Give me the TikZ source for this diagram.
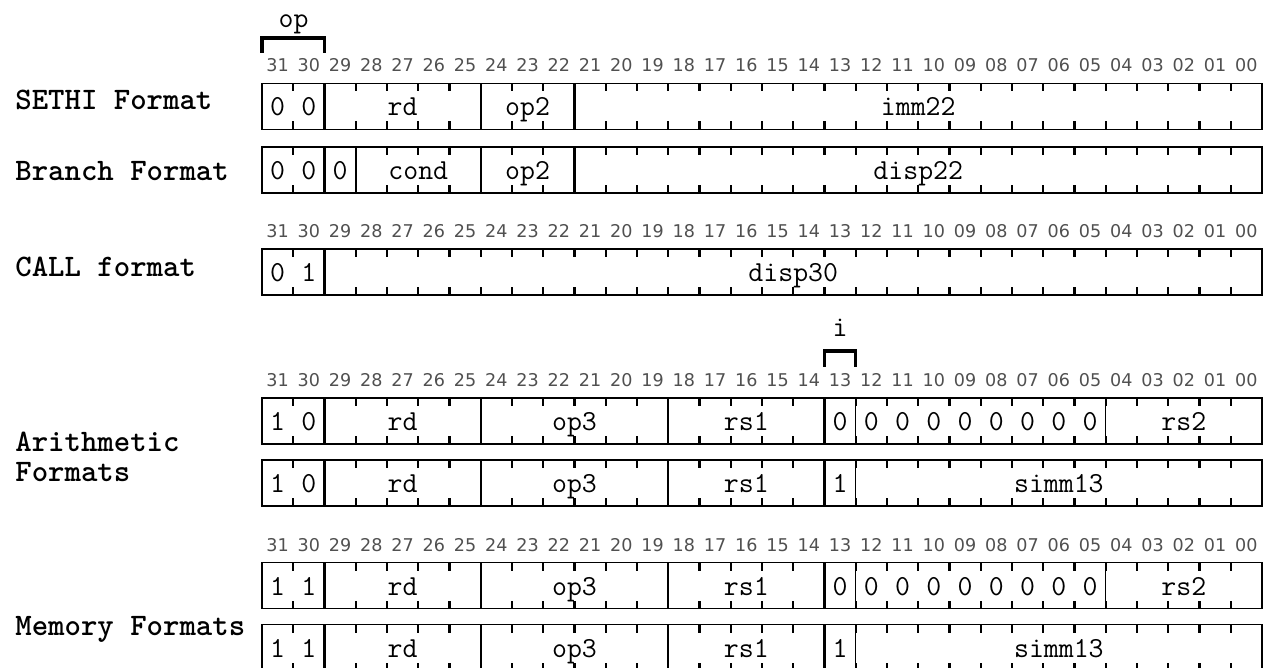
\documentclass[tikz,border=0pt]{standalone}
\usepackage{fontspec}
\newfontfamily\bitfont{DejaVu Sans}
\usetikzlibrary{positioning}
\definecolor{bitgray}{RGB}{80,80,80}
\tikzset{
  outline/.style={draw=black, line width=0.8pt},
  tickmark/.style={draw=black, line width=1.2pt},
  sep/.style={draw=black, line width=1.3pt},
  thinsep/.style={draw=black, line width=0.7pt},
  nosep/.style={draw=none},
  bracket/.style={draw=black, line width=1.8pt},
  fieldtext/.style={font=\ttfamily\fontsize{16.5}{19}\selectfont, inner sep=0pt, anchor=base},
  bitnum/.style={font=\bitfont\fontsize{10}{12}\selectfont, text=bitgray, inner sep=0pt, anchor=base},
  rowlabel/.style={font=\ttfamily\bfseries\fontsize{17.8}{17}\selectfont, inner sep=0pt, anchor=base west, align=left}
}
% bit numbers above a row: #1 name, #2 row top
\newcommand{\bitnums}[2]{%
  \foreach \b in {0,...,31}{
    \node[bitnum] (#1-\b) at ({262+(31.5-\b)*31.25},#2-11.5) {\ifnum\b<10 0\fi\b};
  }}
% one format row: #1 name, #2 row top, #3 fields msb/lsb/divider/text
\newcommand{\fmtrow}[3]{%
  \draw[outline] (262,#2) rectangle (1262,#2+46);
  \foreach \k in {1,...,31}{
    \draw[tickmark] ({262+\k*31.25},#2) -- ++(0,8);
    \draw[tickmark] ({262+\k*31.25},#2+46) -- ++(0,-8);
  }
  \foreach \m/\l/\s/\t in {#3}{
    \draw[\s] ({262+(31-\m)*31.25},#2) -- ++(0,46);
    \node[fieldtext] (#1-\m) at ({262+(31.5-(\m+\l)/2)*31.25},#2+32.5) {\t};
  }}
\begin{document}
\begin{tikzpicture}[x=0.02cm, y=-0.02cm]
  \useasboundingbox (0,0) rectangle (1264,668);

  % op and i brackets
  \coordinate (opL) at (262,53);
  \coordinate (opR) at (324.5,53);
  \draw[bracket] (opL) -- ++(0,-15) -| (opR);
  \node[fieldtext] (oplabel) at (293.5,28) {op};
  \coordinate (iL) at (824.5,367);
  \coordinate (iR) at (855.75,367);
  \draw[bracket] (iL) -- ++(0,-16) -| (iR);
  \node[fieldtext] (ilabel) at (840.1,336.5) {i};

  % bit numbers
  \bitnums{nsethi}{83.5}
  \bitnums{ncall}{249}
  \bitnums{narith}{398}
  \bitnums{nmem}{562.5}

  % formats
  \fmtrow{sethi}{83.5}{31/31/nosep/0, 30/30/nosep/0, 29/25/sep/rd, 24/22/sep/op2, 21/0/sep/imm22}
  \fmtrow{branch}{147}{31/31/nosep/0, 30/30/nosep/0, 29/29/sep/0, 28/25/sep/cond, 24/22/sep/op2, 21/0/sep/disp22}
  \fmtrow{call}{249}{31/31/nosep/0, 30/30/nosep/1, 29/0/sep/disp30}
  \fmtrow{arreg}{398}{31/31/nosep/1, 30/30/nosep/0, 29/25/sep/rd, 24/19/sep/op3, 18/14/sep/rs1, 13/13/sep/0,
    12/12/thinsep/0, 11/11/nosep/0, 10/10/nosep/0, 9/9/nosep/0, 8/8/nosep/0, 7/7/nosep/0, 6/6/nosep/0, 5/5/nosep/0,
    4/0/thinsep/rs2}
  \fmtrow{arimm}{460}{31/31/nosep/1, 30/30/nosep/0, 29/25/sep/rd, 24/19/sep/op3, 18/14/sep/rs1, 13/13/sep/1,
    12/0/thinsep/simm13}
  \fmtrow{memreg}{562.5}{31/31/nosep/1, 30/30/nosep/1, 29/25/sep/rd, 24/19/sep/op3, 18/14/sep/rs1, 13/13/sep/0,
    12/12/thinsep/0, 11/11/nosep/0, 10/10/nosep/0, 9/9/nosep/0, 8/8/nosep/0, 7/7/nosep/0, 6/6/nosep/0, 5/5/nosep/0,
    4/0/thinsep/rs2}
  \fmtrow{memimm}{624.5}{31/31/nosep/1, 30/30/nosep/1, 29/25/sep/rd, 24/19/sep/op3, 18/14/sep/rs1, 13/13/sep/1,
    12/0/thinsep/simm13}

  % row labels
  \node[rowlabel] (lsethi) at (15,110) {SETHI Format};
  \node[rowlabel] (lbranch) at (15,181) {Branch Format};
  \node[rowlabel] (lcall) at (15,277) {CALL format};
  \node[rowlabel] (larith) at (15,481) {Arithmetic\\Formats};
  \node[rowlabel] (lmem) at (15,635) {Memory Formats};
\end{tikzpicture}
\end{document}
